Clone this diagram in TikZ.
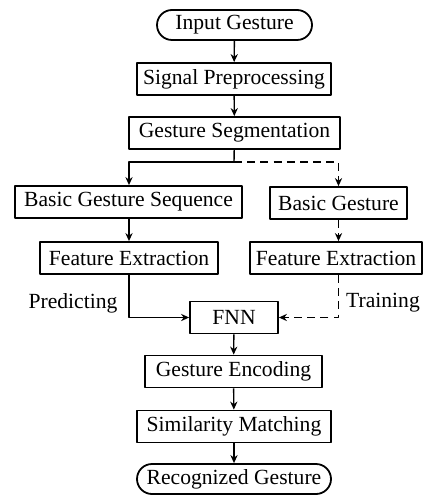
\documentclass[tikz,border=0pt]{standalone}
\usepackage{fontspec}
\setmainfont{Liberation Serif}
\newfontfamily\boxfont{Liberation Serif}
\usetikzlibrary{arrows.meta}

\tikzset{
  stepbox/.style={draw, line width=0.9pt, minimum height=16pt, inner sep=1pt,
    font=\boxfont\fontsize{10.8}{13}\selectfont},
  endbox/.style={stepbox, rounded corners=7.5pt, minimum height=15pt},
  flow/.style={line width=0.7pt, -{Stealth[length=4pt,width=3.6pt]}},
  train/.style={flow, dash pattern=on 4pt off 2.6pt}
}

\begin{document}
\begin{tikzpicture}[x=0.5pt, y=-0.5pt, line join=round]
  \useasboundingbox (0,0) rectangle (425,496);
  % --- main column -------------------------------------------------
  \node[endbox,  minimum width=77.5pt] (in)   at (234.5,25)  {Input Gesture};
  \node[stepbox, minimum width=97pt]   (pre)  at (234,79)    {Signal Preprocessing};
  \node[stepbox, minimum width=105.5pt](seg)  at (234.5,133) {Gesture Segmentation};
  % --- two branches ------------------------------------------------
  \node[stepbox, minimum width=113.5pt](bgs)  at (128.5,202) {Basic Gesture Sequence};
  \node[stepbox, minimum width=68.5pt] (bg)   at (338.5,203) {Basic Gesture};
  \node[stepbox, minimum width=89pt]   (fel)  at (129,258)   {Feature Extraction};
  \node[stepbox, minimum width=86pt]   (fer)  at (336,258)   {Feature Extraction};
  % --- network and output ------------------------------------------
  \node[stepbox, minimum width=44pt]   (fnn)  at (234,317.5) {FNN};
  \node[stepbox, minimum width=88.5pt] (enc)  at (233.5,371.5){Gesture Encoding};
  \node[stepbox, minimum width=97pt]   (match)at (234,426.5) {Similarity Matching};
  \node[endbox,  minimum width=97pt]   (out)  at (234,479)   {Recognized Gesture};
  % --- labels ------------------------------------------------------
  \node[font=\boxfont\fontsize{10.8}{13}\selectfont] (pred) at (73,303)  {Predicting};
  \node[font=\boxfont\fontsize{10.8}{13}\selectfont] (trn)  at (383,303) {Training};
  % --- connectors --------------------------------------------------
  \coordinate (split) at (234,162);
  \draw[flow] (in) -- (pre);
  \draw[flow] (pre) -- (seg);
  \draw[line width=0.7pt] (seg) -- (split);
  \draw[flow] (split) -| (bgs.north -| fel);
  \draw[train] (split) -| (bg);
  \draw[flow] (bgs.south -| fel) -- (fel);
  \draw[train] (bg) -- (bg |- fer.north);
  \draw[flow] (fel) |- (fnn);
  \draw[train] (bg |- fer.south) |- (fnn);
  \draw[flow] (fnn) -- (enc);
  \draw[flow] (enc) -- (match);
  \draw[flow] (match) -- (out);
\end{tikzpicture}
\end{document}
